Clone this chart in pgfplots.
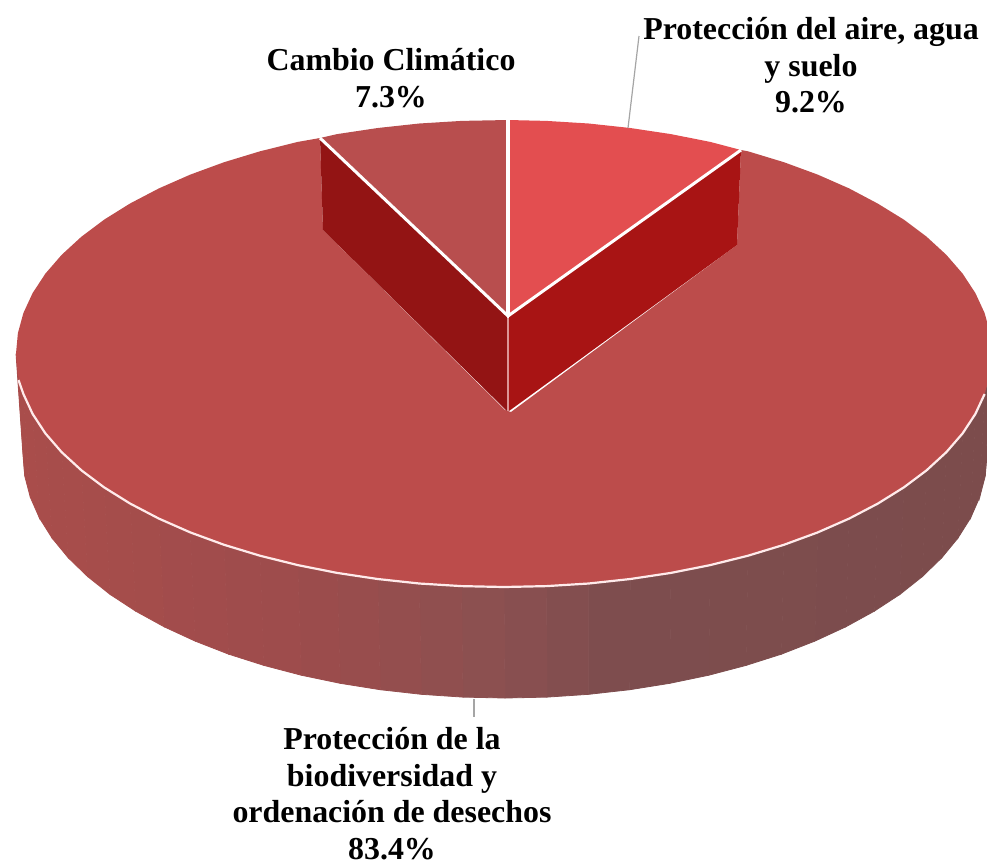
\documentclass[border=0pt]{standalone}
\usepackage{pgfplots}
\pgfplotsset{compat=1.18}
\usepackage{fontspec}
\setmainfont{Liberation Serif}

\definecolor{maintop}{RGB}{188,76,75}
\definecolor{cambiotop}{RGB}{184,78,78}
\definecolor{airetop}{RGB}{227,78,80}
\definecolor{cambiowall}{RGB}{147,20,20}
\definecolor{airewall}{RGB}{168,20,20}
\definecolor{leader}{RGB}{165,165,165}
\tikzset{lab/.style={align=center, inner sep=0pt, font=\fontsize{31.9}{36.6}\selectfont\bfseries, text=black}}

\begin{document}
\begin{tikzpicture}
\begin{axis}[
  scale only axis, width=987pt, height=863pt,
  xmin=0, xmax=987, ymin=0, ymax=863,
  y dir=reverse,
  hide axis,
  colormap={wall}{rgb255(0pt)=(169,77,75) rgb255(280pt)=(157,76,76) rgb255(480pt)=(139,80,80) rgb255(600pt)=(125,77,78) rgb255(967pt)=(124,76,76)},
  point meta min=20, point meta max=987,
]
% outer wall: front half of the top rim, then front half of the bottom rim
\addplot[surf, shader=faceted, faceted color=mapped color, line width=0.8pt, mesh/rows=2, mesh/cols=37, point meta=x] table {
x y
992 353.5
990.1 373.9
984.6 394
975.4 413.9
962.6 433.4
946.3 452.2
926.6 470.3
903.8 487.4
877.8 503.6
849.1 518.6
817.7 532.4
783.9 544.8
748 555.7
710.2 565.1
670.9 572.9
630.3 579
588.7 583.5
546.6 586.1
504 587
461.4 586.1
419.3 583.5
377.7 579
337.1 572.9
297.8 565.1
260 555.7
224.1 544.8
190.3 532.4
158.9 518.6
130.2 503.6
104.2 487.4
81.4 470.3
61.7 452.2
45.4 433.4
32.6 413.9
23.4 394
17.9 373.9
16 353.5
987 455
985.2 476.2
979.7 497.2
970.6 517.9
957.9 538.1
941.8 557.7
922.4 576.5
899.9 594.4
874.2 611.2
845.8 626.8
814.8 641.1
781.5 654.1
746 665.4
708.7 675.2
669.8 683.3
629.7 689.7
588.7 694.3
547 697.1
505 698
463 697.1
421.3 694.3
380.3 689.7
340.2 683.3
301.3 675.2
264 665.4
228.5 654.1
195.2 641.1
164.2 626.8
135.8 611.2
110.1 594.4
87.6 576.5
68.2 557.7
52.1 538.1
39.4 517.9
30.3 497.2
24.8 476.2
23 455
};

% large slice, top face
\addplot[fill=maintop, draw=none] coordinates {
(741,150) (748,151.3) (783.9,162.2) (817.7,174.6) (849.1,188.4) (877.8,203.6)
(903.8,219.6) (926.6,236.7) (946.3,254.8) (962.6,273.6) (975.4,293.1) (984.6,313)
(990.1,333.1) (992,353.5) (990.1,373.9) (984.6,394) (975.4,413.9) (962.6,433.4)
(946.3,452.2) (926.6,470.3) (903.8,487.4) (877.8,503.6) (849.1,518.6) (817.7,532.4)
(783.9,544.8) (748,555.7) (710.2,565.1) (670.9,572.9) (630.3,579) (588.7,583.5)
(546.6,586.1) (504,587) (461.4,586.1) (419.3,583.5) (377.7,579) (337.1,572.9)
(297.8,565.1) (260,555.7) (224.1,544.8) (190.3,532.4) (158.9,518.6) (130.2,503.6)
(104.2,487.4) (81.4,470.3) (61.7,452.2) (45.4,433.4) (32.6,413.9) (23.4,394)
(17.9,373.9) (16,353.5) (17.9,333.1) (23.4,313) (32.6,293.1) (45.4,273.6)
(61.7,254.8) (81.4,236.7) (104.2,219.6) (130.2,203.4) (158.9,188.4) (190.3,174.6)
(224.1,162.2) (260,151.3) (297.8,141.9) (320,138)
(323,230) (505,410) (511,412) (737,245)
} --cycle;

% inner walls of the notch
\addplot[fill=cambiowall, draw=none] coordinates {(320,138) (323,230) (507,411) (507,316)} --cycle;
\addplot[fill=airewall, draw=none] coordinates {(509,316) (509,411) (737,245) (741,150)} --cycle;
\addplot[draw={rgb,255:red,220;green,150;blue,150}, line width=1.5pt] coordinates {(508,318) (508,411)};

% small slices, top faces
\addplot[fill=cambiotop, draw=none] coordinates {
(320,138) (337.1,134.1) (377.7,128) (419.3,123.5) (461.4,120.9) (508,120) (508,316)
} --cycle;
\addplot[fill=airetop, draw=none] coordinates {
(508,120) (546.6,120.9) (588.7,123.5) (630.3,128) (670.9,134.1) (710.2,141.9) (741,150) (508,316)
} --cycle;

% white slice borders
\addplot[white, line width=3pt] coordinates {(320,138) (508,316) (741,150)};
\addplot[white, line width=3.5pt] coordinates {(508,120) (508,316)};
\addplot[white!92!red, line width=2.2pt] coordinates {
(984.6,394) (975.4,413.9) (962.6,433.4) (946.3,452.2) (926.6,470.3) (903.8,487.4)
(877.8,503.6) (849.1,518.6) (817.7,532.4) (783.9,544.8) (748,555.7) (710.2,565.1)
(670.9,572.9) (630.3,579) (588.7,583.5) (546.6,586.1) (504,587) (461.4,586.1)
(419.3,583.5) (377.7,579) (337.1,572.9) (297.8,565.1) (260,555.7) (224.1,544.8)
(190.3,532.4) (158.9,518.6) (130.2,503.6) (104.2,487.4) (81.4,470.3) (61.7,452.2)
(45.4,433.4) (32.6,413.9) (23.4,394) (18.5,380)
};

% leader lines
\addplot[leader, line width=1.2pt] coordinates {(628,128) (639,36)};
\addplot[leader, line width=1.2pt] coordinates {(474,699) (474,717)};

\node[lab] at (axis cs:811,65.5) {Protección del aire, agua\\y suelo\\9.2\%};
\node[lab] at (axis cs:391,78) {Cambio Climático\\7.3\%};
\node[lab] at (axis cs:392,793.5) {Protección de la\\biodiversidad y\\ordenación de desechos\\83.4\%};
\coordinate (bbsw) at (axis cs:0,863);
\coordinate (bbne) at (axis cs:987,0);
\end{axis}
\pgfresetboundingbox
\useasboundingbox (bbsw) rectangle (bbne);
\end{tikzpicture}
\end{document}
